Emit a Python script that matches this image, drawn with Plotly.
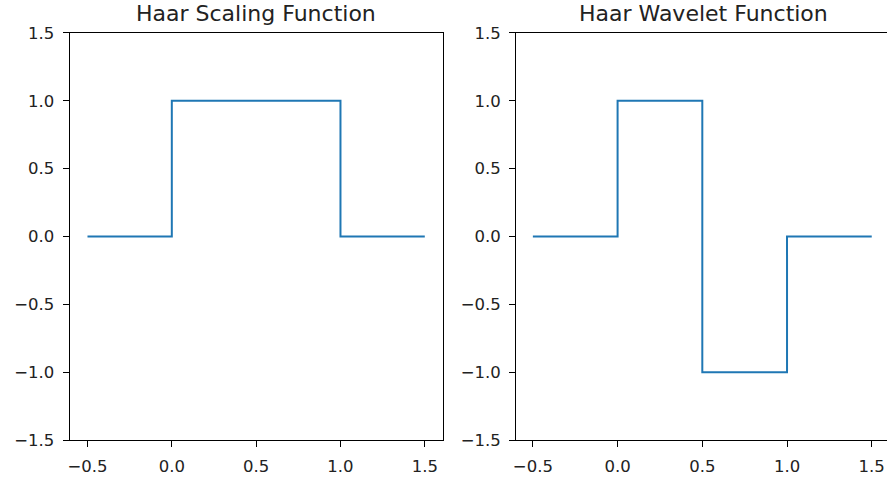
import plotly.graph_objects as go

# Haar scaling function phi(t): breakpoints and level held until next breakpoint
scaling_t = [-0.5, 0.0, 1.0, 1.5]
scaling_v = [0.0, 1.0, 0.0, 0.0]

# Haar wavelet function psi(t)
wavelet_t = [-0.5, 0.0, 0.5, 1.0, 1.5]
wavelet_v = [0.0, 1.0, -1.0, 0.0, 0.0]

titles = ["Haar Scaling Function", "Haar Wavelet Function"]
x_ticks = [-0.5, 0.0, 0.5, 1.0, 1.5]
y_ticks = [-1.5, -1.0, -0.5, 0.0, 0.5, 1.0, 1.5]


def fmt(v):
    s = f"{v:.1f}"
    return s.replace("-", "\u2212")


W, H = 887, 480
LINE = "#1f77b4"
FONT = "DejaVu Sans"

# vertical placement in paper units (plot area spans roughly y=9..471 px)
PH, PT = 462.0, 9.0


def ypaper(px):
    return 1 - (px - PT) / PH


fig = go.Figure()
fig.add_trace(go.Scatter(x=scaling_t, y=scaling_v, mode="lines", line_shape="hv",
                         line=dict(color=LINE, width=2), xaxis="x", yaxis="y",
                         showlegend=False, hoverinfo="skip"))
fig.add_trace(go.Scatter(x=wavelet_t, y=wavelet_v, mode="lines", line_shape="hv",
                         line=dict(color=LINE, width=2), xaxis="x2", yaxis="y2",
                         showlegend=False, hoverinfo="skip"))

y_dom = [ypaper(441), ypaper(33)]
left_dom = [67 / W, 441 / W]
right_dom = [515 / W, 1.0]

axis_common = dict(showgrid=False, zeroline=False, showline=True, linecolor="black",
                   linewidth=1.2, ticks="outside", ticklen=6, tickwidth=1.2,
                   tickcolor="black", tickfont=dict(family=FONT, size=16.5, color="#222"))
x_extra = dict(ticklabelstandoff=5)
y_extra = dict(ticklabelstandoff=5)

fig.update_layout(
    width=W, height=H,
    margin=dict(l=0, r=0, t=0, b=0),
    paper_bgcolor="white", plot_bgcolor="white",
    xaxis=dict(domain=left_dom, range=[-0.605, 1.605], anchor="y", mirror=True,
               tickvals=x_ticks, ticktext=[fmt(v) for v in x_ticks],
               **axis_common, **x_extra),
    yaxis=dict(domain=y_dom, range=[-1.5, 1.5], anchor="x", mirror=True,
               tickvals=y_ticks, ticktext=[fmt(v) for v in y_ticks],
               **axis_common, **y_extra),
    xaxis2=dict(domain=right_dom, range=[-0.598, 1.59], anchor="y2", mirror=True,
                tickvals=x_ticks, ticktext=[fmt(v) for v in x_ticks],
                **axis_common, **x_extra),
    yaxis2=dict(domain=y_dom, range=[-1.5, 1.5], anchor="x2", mirror=False,
                tickvals=y_ticks, ticktext=[fmt(v) for v in y_ticks],
                **axis_common, **y_extra),
)

for dom, text in zip([left_dom, [515 / W, (515 + 376) / W]], titles):
    fig.add_annotation(text=text, x=(dom[0] + dom[1]) / 2, y=ypaper(14),
                       xref="paper", yref="paper", showarrow=False,
                       xanchor="center", yanchor="middle",
                       font=dict(family=FONT, size=22, color="#222"))

fig.write_html("out.html")
